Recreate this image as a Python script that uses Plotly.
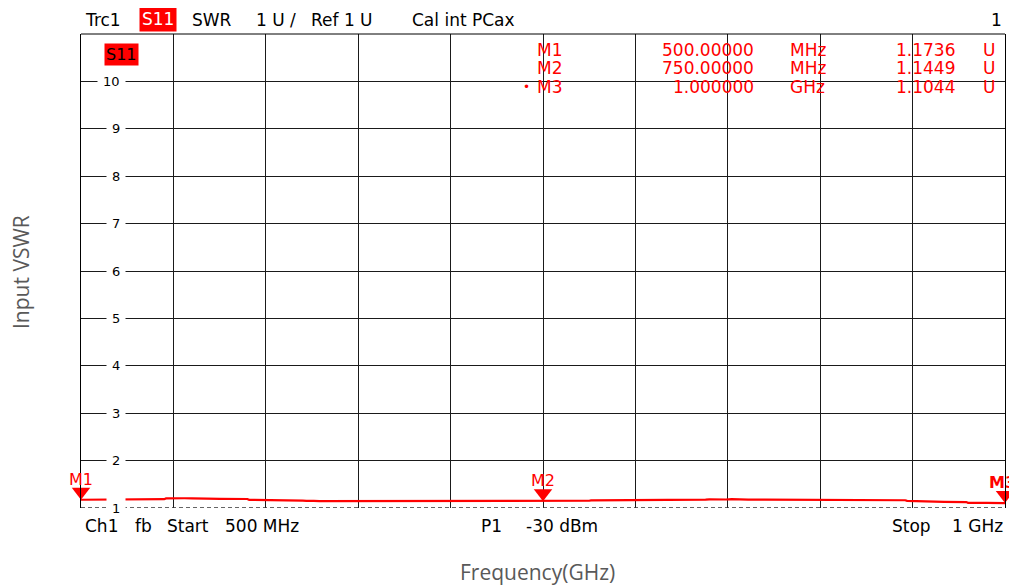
import plotly.graph_objects as go

# ---------------- data ----------------
freq_mhz = [500, 510, 521, 522, 535, 545, 546, 550, 553, 556, 560, 563, 566, 568, 575,
            585, 590, 591, 600, 608, 609, 615, 620, 622, 624, 626, 629, 640, 660, 680,
            700, 720, 740, 750, 756, 757, 775, 776, 790, 791, 800, 820, 838, 840, 843,
            846, 849, 852, 855, 858, 861, 870, 880, 900, 920, 931, 946, 947, 966, 967,
            979, 980, 990, 1000]
vswr = [1.1736, 1.174, 1.174, 1.186, 1.186, 1.186, 1.203, 1.208, 1.199, 1.206, 1.204,
        1.197, 1.205, 1.196, 1.192, 1.192, 1.190, 1.172, 1.172, 1.171, 1.160, 1.159,
        1.157, 1.152, 1.156, 1.150, 1.145, 1.145, 1.145, 1.145, 1.145, 1.145, 1.145,
        1.1449, 1.146, 1.153, 1.153, 1.162, 1.162, 1.175, 1.175, 1.175, 1.175, 1.183,
        1.178, 1.185, 1.179, 1.186, 1.180, 1.184, 1.176, 1.175, 1.175, 1.175, 1.175,
        1.174, 1.163, 1.150, 1.146, 1.130, 1.126, 1.110, 1.107, 1.1044]

marker_names = ["M1", "M2", "M3"]
marker_freq = [500, 750, 1000]
marker_val = [1.1736, 1.1449, 1.1044]
marker_freq_txt = ["500.00000", "750.00000", "1.000000"]
marker_unit = ["MHz", "MHz", "GHz"]
marker_val_txt = ["1.1736", "1.1449", "1.1044"]

y_ticks = [1, 2, 3, 4, 5, 6, 7, 8, 9, 10]
x_range = [500, 1000]
y_range = [1, 11]

header_words = ["Trc1", "SWR", "1 U /", "Ref 1 U", "Cal int PCax"]
footer_words = ["Ch1", "fb", "Start", "500 MHz", "P1", "-30 dBm", "Stop", "1 GHz"]

# ---------------- layout geometry ----------------
# page body has an 8px margin, so the figure starts at (8, 8) in the window
OFF = 8
WIN_W, WIN_H = 1017, 585
W, H = WIN_W - OFF, WIN_H - OFF
PL, PR, PT, PB = 81, 1005, 34, 508          # plot area in window pixels
L, T = PL - OFF, PT - OFF
R = W - (PR - OFF)
Bm = H - (PB - OFF)
PW, PH = PR - PL, PB - PT
FONT = "DejaVu Sans"
RED = "#ff0000"


def px(x, y):
    return (x - PL) / PW, (PB - y) / PH


def ann(text, x, y, xanchor="left", color="black", size=17, bg=None, family=FONT,
        yanchor="middle", textangle=0, pad=1):
    xp, yp = px(x, y)
    d = dict(xref="paper", yref="paper", x=xp, y=yp, xanchor=xanchor, yanchor=yanchor,
             text=text, showarrow=False, textangle=textangle, borderpad=pad,
             font=dict(family=family, size=size, color=color))
    if bg:
        d["bgcolor"] = bg
    return d


fig = go.Figure()

fig.add_trace(go.Scatter(x=freq_mhz, y=vswr, mode="lines",
                         line=dict(color=RED, width=2.2), hoverinfo="skip",
                         showlegend=False, cliponaxis=False))

# marker triangles: tip on the data point
msize = 16
px_per_unit = PH / (y_range[1] - y_range[0])
off = (msize / 2) / px_per_unit
fig.add_trace(go.Scatter(
    x=marker_freq, y=[v + off for v in marker_val], mode="markers",
    marker=dict(symbol="triangle-down", size=msize, color=RED, line=dict(width=0)),
    cliponaxis=False, showlegend=False, hoverinfo="skip"))

annotations = []
# marker labels above the triangles
for name, f, v in zip(marker_names, marker_freq, marker_val):
    txt = "<b>%s</b>" % name if name == "M3" else name
    annotations.append(dict(xref="x", yref="y", x=f, y=v, xanchor="center",
                            yanchor="bottom", yshift=10, text=txt, showarrow=False,
                            borderpad=0, font=dict(family=FONT, size=16, color=RED),
                            xshift=-3 if name == "M3" else 0))

# y tick labels inside the plot with white gap
for v in y_ticks:
    xp, _ = px(126, 0)
    annotations.append(dict(xref="paper", yref="y", x=xp, y=v, xanchor="right",
                            yanchor="middle", text=str(v), showarrow=False,
                            bgcolor="white", borderpad=5,
                            font=dict(family=FONT, size=13, color="black")))

# header
hx = [83, 190, 254, 309, 410]
for w, x in zip(header_words, hx):
    annotations.append(ann(w, x, 20))
annotations.append(ann("S11", 157.5, 19, xanchor="center", color="white", bg=RED, pad=2))
annotations.append(ann("1", 1004, 20, xanchor="right"))
annotations.append(ann("S11", 121, 54, xanchor="center", color="black", bg=RED, size=16, pad=1))

# marker table
rows_y = [50, 68, 87]
for i in range(3):
    y = rows_y[i]
    annotations.append(ann(marker_names[i], 535, y, color=RED))
    annotations.append(ann(marker_freq_txt[i], 756, y, xanchor="right", color=RED))
    annotations.append(ann(marker_unit[i], 788, y, color=RED))
    annotations.append(ann(marker_val_txt[i], 957, y, xanchor="right", color=RED))
    annotations.append(ann("U", 981, y, color=RED))
annotations.append(ann("•", 521, 87, color=RED, size=12))

# footer
fx = [83, 133, 165, 223, 479, 524, 890, 950]
for w, x in zip(footer_words, fx):
    annotations.append(ann(w, x, 526))

# axis titles
annotations.append(ann("Frequency(GHz)", 537, 572, xanchor="center", color="#595959",
                       size=21, family="Open Sans"))
annotations.append(ann("Input VSWR", 21, 272, xanchor="center", color="#595959",
                       size=21, family="Open Sans", textangle=-90))

shapes = [
    dict(type="line", xref="paper", yref="paper", x0=0, x1=1, y0=1, y1=1,
         line=dict(color="black", width=1)),
    dict(type="line", xref="x", yref="y", x0=x_range[0], x1=x_range[1],
         y0=y_range[0], y1=y_range[0], line=dict(color="#333333", width=1.5, dash="4px,3px")),
]

fig.update_layout(
    width=W, height=H,
    margin=dict(l=L, r=R, t=T, b=Bm, pad=0),
    paper_bgcolor="white", plot_bgcolor="white",
    xaxis=dict(range=x_range, dtick=50, tick0=500, showgrid=True, gridcolor="#1a1a1a",
               gridwidth=1, showticklabels=False, zeroline=False, showline=False,
               ticks=""),
    yaxis=dict(range=y_range, tickvals=y_ticks[1:], showgrid=True, gridcolor="#1a1a1a",
               gridwidth=1, showticklabels=False, zeroline=False, showline=True,
               mirror=True, linecolor="black", linewidth=1, ticks=""),
    annotations=annotations,
    shapes=shapes,
    showlegend=False,
)

fig.write_html("out.html")
